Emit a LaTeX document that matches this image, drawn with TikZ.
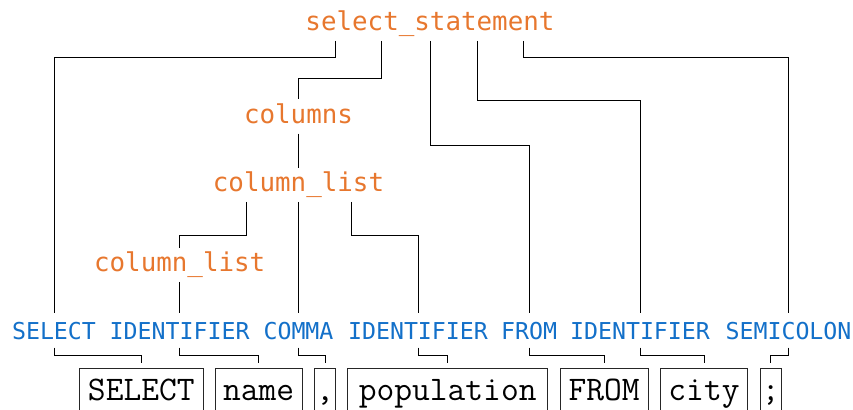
\documentclass[tikz,border=0pt]{standalone}
\usepackage{fontspec}
\newfontfamily\gramfont{DejaVu Sans Mono}
\definecolor{ruleorange}{RGB}{231,119,46}
\definecolor{tokenblue}{RGB}{19,112,201}
\tikzset{
  rule/.style={font={\gramfont\fontsize{25.85bp}{30bp}\selectfont}, text=ruleorange,
    inner xsep=0pt, inner ysep=5bp, text height=19bp, text depth=5bp, anchor=base},
  token/.style={font={\gramfont\fontsize{23.25bp}{28bp}\selectfont}, text=tokenblue,
    inner xsep=0pt, inner ysep=6bp, text height=20bp, text depth=2bp, anchor=base},
  lexeme/.style={draw=black!85, line width=0.8bp, font={\ttfamily\fontsize{34.5bp}{40bp}\selectfont},
    inner xsep=0pt, inner ysep=6bp, text height=25.7bp, text depth=22bp,
    outer ysep=5.6bp, anchor=base},
  link/.style={draw=black, line width=0.8bp},
}
\begin{document}
\begin{tikzpicture}[x=1bp,y=-1bp]
\useasboundingbox (0,0) rectangle (853,409);
\clip (0,0) rectangle (853,409);

% grammar rules
\node[rule] (ss)  at (430,30.7)  {select\_statement};
\node[rule] (cols) at (298.5,123.3) {columns};
\node[rule] (cl1) at (298.5,191.7) {column\_list};
\node[rule] (cl2) at (179.7,271.7) {column\_list};

% tokens
\node[token] (tsel)   at (54,339.5)    {SELECT};
\node[token] (tid1)   at (179.7,339.5) {IDENTIFIER};
\node[token] (tcomma) at (298.5,339.5) {COMMA};
\node[token] (tid2)   at (418,339.5)   {IDENTIFIER};
\node[token] (tfrom)  at (529,339.5)   {FROM};
\node[token] (tid3)   at (640,339.5)   {IDENTIFIER};
\node[token] (tsemi)  at (788.5,339.5) {SEMICOLON};

% source text
\node[lexeme, minimum width=124bp]  (lsel)   at (141.3,400) {SELECT};
\node[lexeme, minimum width=87.3bp] (lname)  at (258.7,400) {name};
\node[lexeme, minimum width=21.4bp] (lcomma) at (325,400)   {,};
\node[lexeme, minimum width=200bp]  (lpop)   at (447.7,400) {population};
\node[lexeme, minimum width=88.3bp] (lfrom)  at (604.2,400) {FROM};
\node[lexeme, minimum width=86.6bp] (lcity)  at (704,400)   {city};
\node[lexeme, minimum width=21.7bp] (lsemi)  at (770.8,400) {;};

% parse tree edges
\draw[link] ([xshift=-95bp]ss.south) |- (tsel.north |- 0,57) -- (tsel.north);
\draw[link] ([xshift=-49bp]ss.south) |- (cols.north |- 0,78) -- (cols.north);
\draw[link] (ss.south) |- (tfrom.north |- 0,145) -- (tfrom.north);
\draw[link] ([xshift=47bp]ss.south) |- (tid3.north |- 0,100) -- (tid3.north);
\draw[link] ([xshift=93bp]ss.south) |- (tsemi.north |- 0,57) -- (tsemi.north);
\draw[link] (cols.south) -- (cl1.north);
\draw[link] ([xshift=-52.5bp]cl1.south) |- (cl2.north |- 0,235) -- (cl2.north);
\draw[link] (cl1.south) -- (tcomma.north);
\draw[link] ([xshift=53.2bp]cl1.south) |- (tid2.north |- 0,235) -- (tid2.north);
\draw[link] (cl2.south) -- (tid1.north);

% tokens to source text
\draw[link] (tsel.south)   |- (lsel.north |- 0,355)   -- (lsel.north);
\draw[link] (tid1.south)   |- (lname.north |- 0,355)  -- (lname.north);
\draw[link] (tcomma.south) |- (lcomma.north |- 0,355) -- (lcomma.north);
\draw[link] (tid2.south)   |- (lpop.north |- 0,355)   -- (lpop.north);
\draw[link] (tfrom.south)  |- (lfrom.north |- 0,355)  -- (lfrom.north);
\draw[link] (tid3.south)   |- (lcity.north |- 0,355)  -- (lcity.north);
\draw[link] (tsemi.south)  |- (lsemi.north |- 0,355)  -- (lsemi.north);
\end{tikzpicture}
\end{document}
